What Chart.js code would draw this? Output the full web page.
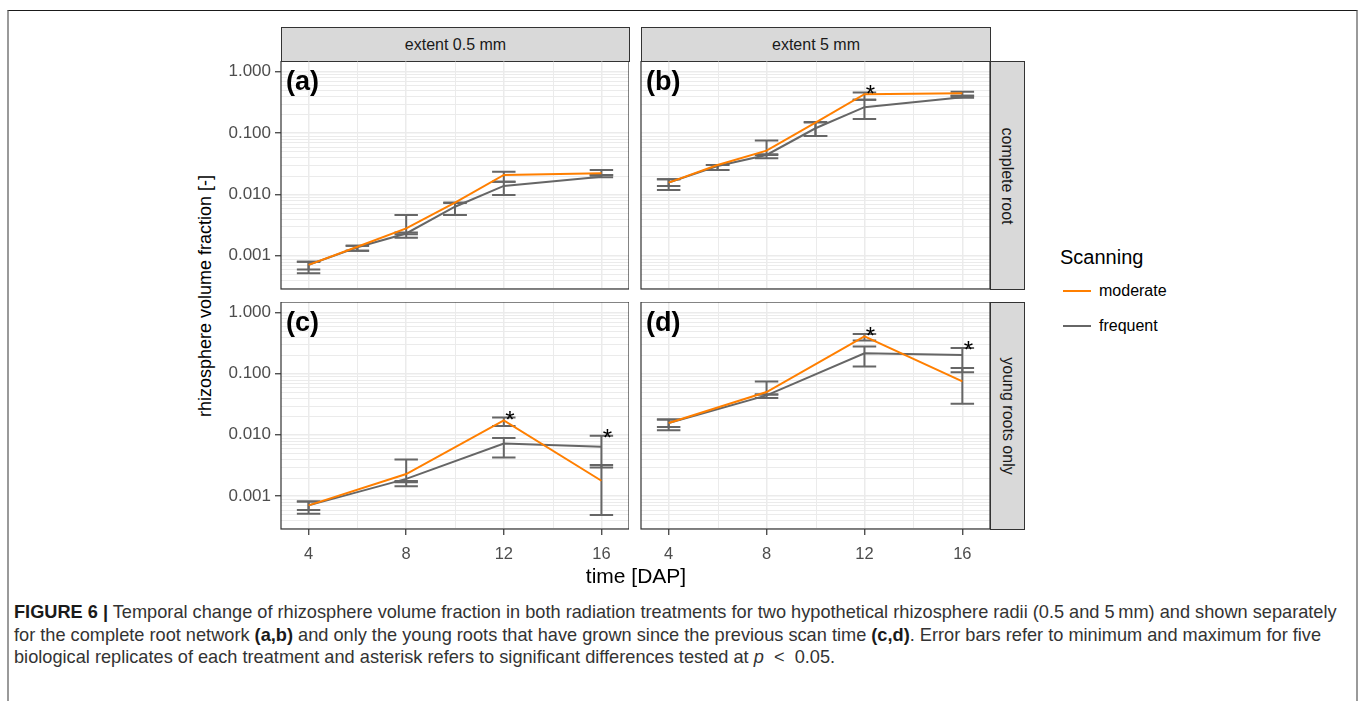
<!DOCTYPE html>
<html>
<head>
<meta charset="utf-8">
<script src="https://cdn.jsdelivr.net/npm/chart.js@4.4.1/dist/chart.umd.min.js"></script>
<style>
  body { margin: 0; background: #fff; font-family: "Liberation Sans", Arial, sans-serif; }
  #page { position: relative; width: 1360px; height: 701px; overflow: hidden; }
  .frame { position: absolute; left: 7px; top: 10px; width: 1347px; height: 700px;
           border-top: 1.5px solid #1a1a1a; border-left: 2px solid #9a9a9a; border-right: 2px solid #9a9a9a; }
  canvas { position: absolute; }
  .strip { position: absolute; background: #d9d9d9; border: 1px solid #333; box-sizing: border-box;
           color: #1a1a1a; font-size: 16px; display: flex; align-items: center; justify-content: center; }
  .strip span { white-space: nowrap; }
  .strip.row span { transform: rotate(90deg); }
  .title { position: absolute; color: #000; font-size: 20px; white-space: nowrap; }
  .legend-key { position: absolute; width: 28px; height: 2px; }
  .legend-text { position: absolute; font-size: 16px; color: #000; }
  .caption { position: absolute; left: 14px; top: 601px; font-size: 18.2px; line-height: 22.5px;
             color: #333; white-space: nowrap; }
  .caption b { color: #1a1a1a; }
</style>
</head>
<body>
<div id="page">
  <div class="frame"></div>

  <div class="strip" style="left:281px; top:27px; width:349px; height:35px;"><span>extent 0.5 mm</span></div>
  <div class="strip" style="left:641px; top:27px; width:350px; height:35px;"><span>extent 5 mm</span></div>
  <div class="strip row" style="left:990px; top:61px; width:35px; height:229px;"><span>complete root</span></div>
  <div class="strip row" style="left:990px; top:302px; width:35px; height:228px;"><span>young roots only</span></div>

  <canvas id="panelA" width="408" height="278" style="left:221px; top:61px;"></canvas>
  <canvas id="panelB" width="409" height="278" style="left:581px; top:61px;"></canvas>
  <canvas id="panelC" width="408" height="277" style="left:221px; top:302px;"></canvas>
  <canvas id="panelD" width="409" height="277" style="left:581px; top:302px;"></canvas>

  <div class="title" style="left:205px; top:296px; font-size:18px; transform: translate(-50%,-50%) rotate(-90deg);">rhizosphere volume fraction [-]</div>
  <div class="title" style="left:636px; top:576px; font-size:21px; transform: translate(-50%,-50%);">time [DAP]</div>

  <div class="title" style="left:1060px; top:246px;">Scanning</div>
  <div class="legend-key" style="left:1063px; top:290px; background:#FF7F00;"></div>
  <div class="legend-text" style="left:1099px; top:282px;">moderate</div>
  <div class="legend-key" style="left:1063px; top:325px; background:#666666;"></div>
  <div class="legend-text" style="left:1099px; top:317px;">frequent</div>

  <div class="caption">
    <b>FIGURE 6 |</b> Temporal change of rhizosphere volume fraction in both radiation treatments for two hypothetical rhizosphere radii (0.5 and 5&thinsp;mm) and shown separately<br>
    for the complete root network <b>(a,b)</b> and only the young roots that have grown since the previous scan time <b>(c,d)</b>. Error bars refer to minimum and maximum for five<br>
    biological replicates of each treatment and asterisk refers to significant differences tested at <i>p</i> &nbsp;&lt;&nbsp; 0.05.
  </div>
</div>

<script>
// scan days (DAP)
const daysComplete = [4, 6, 8, 10, 12, 16];
const daysYoung = [4, 8, 12, 16];

// (a) complete root, extent 0.5 mm
const aModerate    = [0.00071, 0.00140, 0.00279, 0.00731, 0.0207, 0.0220];
const aModerateMin = [0.00060, 0.00121, 0.00225, 0.00460, 0.0161, 0.0207];
const aModerateMax = [0.00080, 0.00146, 0.00460, 0.00740, 0.0234, 0.0249];
const aFrequent    = [0.00071, 0.00138, 0.00231, 0.00629, 0.0137, 0.0194];
const aFrequentMin = [0.00052, 0.00121, 0.00197, 0.00460, 0.0098, 0.0189];
const aFrequentMax = [0.00080, 0.00146, 0.00240, 0.00720, 0.0161, 0.0207];

// (b) complete root, extent 5 mm
const bModerate    = [0.0155, 0.0301, 0.0515, 0.147, 0.427, 0.443];
const bModerateMin = [0.0137, 0.0249, 0.0438, 0.0893, 0.345, 0.401];
const bModerateMax = [0.0176, 0.0301, 0.0750, 0.150, 0.455, 0.466];
const bFrequent    = [0.0155, 0.0290, 0.0438, 0.119, 0.262, 0.382];
const bFrequentMin = [0.0118, 0.0249, 0.0386, 0.0893, 0.169, 0.372];
const bFrequentMax = [0.0176, 0.0301, 0.0449, 0.147, 0.345, 0.401];

// (c) young roots only, extent 0.5 mm
const cModerate    = [0.00070, 0.00228, 0.0172, 0.00177];
const cModerateMin = [0.00059, 0.00167, 0.0139, 0.00049];
const cModerateMax = [0.00081, 0.00395, 0.0191, 0.00319];
const cFrequent    = [0.00070, 0.00190, 0.00719, 0.00634];
const cFrequentMin = [0.00051, 0.00144, 0.00426, 0.00292];
const cFrequentMax = [0.00081, 0.00175, 0.00889, 0.00959];

// (d) young roots only, extent 5 mm
const dModerate    = [0.0156, 0.0499, 0.407, 0.0744];
const dModerateMin = [0.0134, 0.0457, 0.346, 0.0322];
const dModerateMax = [0.0177, 0.0744, 0.444, 0.123];
const dFrequent    = [0.0156, 0.0440, 0.215, 0.202];
const dFrequentMin = [0.0119, 0.0398, 0.130, 0.105];
const dFrequentMax = [0.0177, 0.0457, 0.276, 0.263];

// days with significant differences (asterisk)
const bStars = [12];
const cStars = [12, 16];
const dStars = [12, 16];

const xTicks = [4, 8, 12, 16];
const xMinorTicks = [6, 10, 14];
const yTicks = [0.001, 0.01, 0.1, 1];

const yMin = 0.000288, yMax = 1.48;
const xMin = 2.87, xMax = 17.13;
const orange = '#FF7F00';
const grey = '#666666';
const gridColor = '#EBEBEB';
const fontFamily = '"Liberation Sans", Arial, sans-serif';

const facetPlugin = {
  id: 'facet',
  beforeDatasetsDraw(chart, args, opts) {
    const { ctx, chartArea: a, scales: { x, y } } = chart;
    ctx.save();
    // minor grid
    ctx.strokeStyle = gridColor;
    ctx.lineWidth = 1;
    xMinorTicks.forEach(v => {
      const px = Math.round(x.getPixelForValue(v)) + 0.5;
      ctx.beginPath(); ctx.moveTo(px, a.top); ctx.lineTo(px, a.bottom); ctx.stroke();
    });
    for (let k = -4; k <= 0; k++) {
      for (let m = 2; m <= 9; m++) {
        const v = m * Math.pow(10, k);
        if (v <= yMin || v >= yMax) continue;
        const py = Math.round(y.getPixelForValue(v)) + 0.5;
        ctx.beginPath(); ctx.moveTo(a.left, py); ctx.lineTo(a.right, py); ctx.stroke();
      }
    }
    // error bars (min / max)
    ctx.strokeStyle = grey;
    ctx.lineWidth = 2;
    opts.bars.forEach(bar => {
      opts.days.forEach((d, i) => {
        const px = x.getPixelForValue(d);
        const l = x.getPixelForValue(d - 0.48), r = x.getPixelForValue(d + 0.48);
        const lo = y.getPixelForValue(bar.min[i]), hi = y.getPixelForValue(bar.max[i]);
        ctx.beginPath();
        ctx.moveTo(px, lo); ctx.lineTo(px, hi);
        ctx.moveTo(l, lo); ctx.lineTo(r, lo);
        ctx.moveTo(l, hi); ctx.lineTo(r, hi);
        ctx.stroke();
      });
    });
    ctx.restore();
  },
  afterDatasetsDraw(chart, args, opts) {
    const { ctx, chartArea: a, scales: { x, y } } = chart;
    ctx.save();
    // asterisks above the highest bar
    ctx.fillStyle = '#000';
    ctx.font = '24px ' + fontFamily;
    ctx.textAlign = 'center';
    ctx.textBaseline = 'alphabetic';
    opts.stars.forEach(d => {
      const i = opts.days.indexOf(d);
      const top = Math.max(...opts.bars.map(b => b.max[i]));
      ctx.fillText('*', x.getPixelForValue(d) + 6, y.getPixelForValue(top) + 10);
    });
    // panel tag
    ctx.font = 'bold 27px ' + fontFamily;
    ctx.textAlign = 'left';
    ctx.textBaseline = 'middle';
    ctx.fillText(opts.tag, a.left + 5, a.top + 22);
    // panel border
    ctx.strokeStyle = '#333333';
    ctx.lineWidth = 1.2;
    ctx.strokeRect(a.left, a.top, a.right - a.left, a.bottom - a.top);
    ctx.restore();
  }
};

function makePanel(id, tag, days, moderate, frequent, bars, stars, showX, showY) {
  const points = vals => days.map((d, i) => ({ x: d, y: vals[i] }));
  return new Chart(document.getElementById(id), {
    type: 'line',
    data: {
      datasets: [
        { label: 'moderate', data: points(moderate), borderColor: orange, borderWidth: 2, pointRadius: 0, tension: 0 },
        { label: 'frequent', data: points(frequent), borderColor: grey, borderWidth: 2, pointRadius: 0, tension: 0 }
      ]
    },
    options: {
      responsive: false,
      animation: false,
      devicePixelRatio: 1,
      layout: { padding: 0 },
      plugins: {
        legend: { display: false },
        tooltip: { enabled: false },
        facet: { tag: tag, days: days, bars: bars, stars: stars }
      },
      scales: {
        x: {
          type: 'linear', min: xMin, max: xMax,
          afterBuildTicks: s => { s.ticks = xTicks.map(v => ({ value: v })); },
          afterFit: s => { s.height = 50; s.paddingLeft = 0; s.paddingRight = 0; },
          ticks: { display: showX, color: '#4D4D4D', padding: 10, font: { size: 16.5, family: fontFamily } },
          grid: { color: gridColor, lineWidth: 1.5, drawTicks: showX, tickLength: 6, tickColor: '#333333', tickWidth: 1.2 },
          border: { display: false }
        },
        y: {
          type: 'logarithmic', min: yMin, max: yMax,
          afterBuildTicks: s => { s.ticks = yTicks.map(v => ({ value: v })); },
          afterFit: s => { s.width = 60; s.paddingTop = 0; s.paddingBottom = 0; },
          ticks: { display: showY, color: '#4D4D4D', padding: 4, callback: v => Number(v).toFixed(3),
                   font: { size: 17, family: fontFamily } },
          grid: { color: gridColor, lineWidth: 1.5, drawTicks: showY, tickLength: 6, tickColor: '#333333', tickWidth: 1.2 },
          border: { display: false }
        }
      }
    },
    plugins: [facetPlugin]
  });
}

makePanel('panelA', '(a)', daysComplete, aModerate, aFrequent,
  [{ min: aModerateMin, max: aModerateMax }, { min: aFrequentMin, max: aFrequentMax }], [], false, true);
makePanel('panelB', '(b)', daysComplete, bModerate, bFrequent,
  [{ min: bModerateMin, max: bModerateMax }, { min: bFrequentMin, max: bFrequentMax }], bStars, false, false);
makePanel('panelC', '(c)', daysYoung, cModerate, cFrequent,
  [{ min: cModerateMin, max: cModerateMax }, { min: cFrequentMin, max: cFrequentMax }], cStars, true, true);
makePanel('panelD', '(d)', daysYoung, dModerate, dFrequent,
  [{ min: dModerateMin, max: dModerateMax }, { min: dFrequentMin, max: dFrequentMax }], dStars, true, false);
</script>
</body>
</html>
